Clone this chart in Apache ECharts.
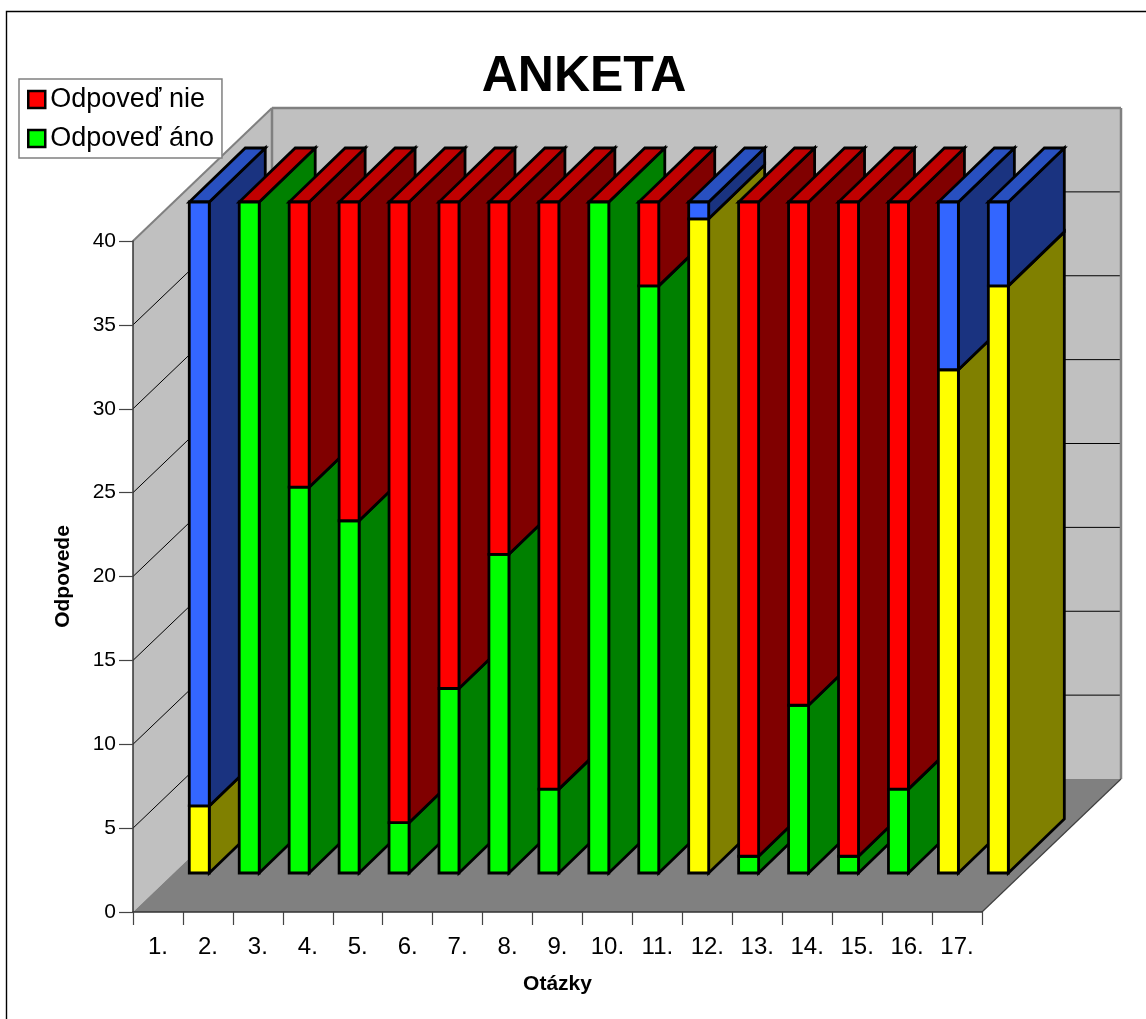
<!DOCTYPE html>
<html>
<head>
<meta charset="utf-8">
<style>html,body{margin:0;padding:0;background:#fff}#c{width:1146px;height:1019px}</style>
<script src="https://cdn.jsdelivr.net/npm/echarts@6/dist/echarts.min.js"></script>
</head>
<body>
<div id="c"></div>
<script>
const categories = ['1.','2.','3.','4.','5.','6.','7.','8.','9.','10.','11.','12.','13.','14.','15.','16.','17.'];
const yesValues = [4,40,23,21,3,11,19,5,40,35,39,1,10,1,5,30,35];
const noValues  = [36,0,17,19,37,29,21,35,0,5,1,39,30,39,35,10,5];
const yesKinds = ['yellow','green','green','green','green','green','green','green','green','green','yellow','green','green','green','green','yellow','yellow'];
const noKinds  = ['blue','red','red','red','red','red','red','red','red','red','blue','red','red','red','red','blue','blue'];
const yTicks = [0,5,10,15,20,25,30,35,40];

const palette = {
  red:    {front:'#ff0000', top:'#c00000', side:'#800000'},
  green:  {front:'#00ff00', top:'#00c000', side:'#008000'},
  blue:   {front:'#3366ff', top:'#2850c0', side:'#1a3380'},
  yellow: {front:'#ffff00', top:'#c0c000', side:'#808000'}
};
const wallDepth = [139,-133];
const barShift = [41.3,-39];
const barDepth = [56,-54];
const barRatio = 0.4;

function poly(points, fill, stroke, lw, z2){
  return {type:'polygon', z2, shape:{points}, style:{fill, stroke, lineWidth:lw, lineJoin:'miter'}, silent:true};
}
function line(a,b,stroke,lw,z2){
  return {type:'line', z2, shape:{x1:a[0],y1:a[1],x2:b[0],y2:b[1]}, style:{stroke, lineWidth:lw}, silent:true};
}
function renderWalls(params, api){
  const cs = params.coordSys, L=cs.x, R=cs.x+cs.width, dx=wallDepth[0], dy=wallDepth[1];
  const y0 = api.coord([0,0])[1], yTop = api.coord([0,yTicks[yTicks.length-1]])[1];
  const kids = [
    poly([[L,yTop],[L+dx,yTop+dy],[L+dx,y0+dy],[L,y0]],'#c0c0c0',null,0,1),
    poly([[L+dx,yTop+dy],[R+dx,yTop+dy],[R+dx,y0+dy],[L+dx,y0+dy]],'#c0c0c0',null,0,1),
    poly([[L,y0],[L+dx,y0+dy],[R+dx,y0+dy],[R,y0]],'#808080',null,0,2)
  ];
  yTicks.slice(1,-1).forEach(v=>{
    const y = api.coord([0,v])[1];
    kids.push(line([L,y],[L+dx,y+dy],'#000',1,3));
    kids.push(line([L+dx,y+dy],[R+dx,y+dy],'#000',1,3));
  });
  kids.push(line([L,yTop],[L+dx,yTop+dy],'#808080',2,4));
  kids.push(line([L+dx,yTop+dy],[R+dx,yTop+dy],'#808080',2.5,4));
  kids.push(line([R+dx,yTop+dy],[R+dx,y0+dy],'#808080',2.5,4));
  kids.push(line([L+dx,yTop+dy],[L+dx,y0+dy],'#808080',2.5,4));
  kids.push(line([R+dx,y0+dy],[R,y0],'#404040',1.2,4));
  return {type:'group', children:kids};
}
function renderBar(params, api){
  const i = api.value(0), from = api.value(1), to = api.value(2);
  const isTop = api.value(3) === 1;
  const c = palette[(isTop ? noKinds : yesKinds)[i]];
  const bw = api.size([1,0])[0]*barRatio, hw = bw/2;
  const a = api.coord([i,from]), b = api.coord([i,to]);
  const xl = a[0]+barShift[0]-hw, xr = xl+bw, yb = a[1]+barShift[1], yt = b[1]+barShift[1];
  const dx = barDepth[0], dy = barDepth[1], z = 10+i*10, s = '#000', lw = 2.8;
  const kids = [];
  if (to>from){
    kids.push(poly([[xr,yb],[xr+dx,yb+dy],[xr+dx,yt+dy],[xr,yt]],c.side,s,lw,z+(isTop?2:1)));
    kids.push(poly([[xl,yb],[xr,yb],[xr,yt],[xl,yt]],c.front,s,lw,z+(isTop?5:4)));
  }
  if (isTop){
    kids.push(poly([[xl,yt],[xr,yt],[xr+dx,yt+dy],[xl+dx,yt+dy]],c.top,s,lw,z+3));
  }
  return {type:'group', children:kids};
}

const yesData = categories.map((_,i)=>[i,0,yesValues[i],0]);
const noData  = categories.map((_,i)=>[i,yesValues[i],yesValues[i]+noValues[i],1]);

const chart = echarts.init(document.getElementById('c'), null, {width:1146, height:1019, renderer:'canvas'});
const font = '"Liberation Sans", Arial, sans-serif';
chart.setOption({
  animation:false,
  backgroundColor:'#fff',
  textStyle:{fontFamily:font},
  title:{text:'ANKETA', left:579, top:47, textAlign:'center',
    textStyle:{fontFamily:font, fontSize:50, fontWeight:'bold', color:'#000'}},
  graphic:[{type:'polyline', z:0, silent:true,
    shape:{points:[[6.5,1030],[6.5,11.5],[1160,11.5]]},
    style:{stroke:'#000', lineWidth:1.4, fill:null}}],
  legend:{
    left:19, top:79, orient:'vertical', selectedMode:false,
    backgroundColor:'#fff', borderColor:'#808080', borderWidth:1.5,
    padding:[7,8,6,8], itemGap:12, itemWidth:17, itemHeight:17,
    textStyle:{fontFamily:font, fontSize:27, color:'#000', padding:[0,0,0,0]},
    data:[
      {name:'Odpoveď nie', icon:'rect', itemStyle:{color:'#ff0000', borderColor:'#000', borderWidth:2.5}},
      {name:'Odpoveď áno', icon:'rect', itemStyle:{color:'#00ff00', borderColor:'#000', borderWidth:2.5}}
    ]
  },
  grid:{left:133, top:241, width:849, height:671, containLabel:false},
  xAxis:{
    type:'category', data:categories, z:5,
    name:'Otázky', nameLocation:'middle', nameGap:62,
    nameTextStyle:{fontFamily:font, fontSize:21, fontWeight:'bold', color:'#000'},
    axisLine:{lineStyle:{color:'#333', width:1.5}},
    axisTick:{show:true, alignWithLabel:false, length:13, lineStyle:{color:'#444', width:1.2}},
    axisLabel:{interval:0, margin:23, fontFamily:font, fontSize:24, color:'#000'},
    splitLine:{show:false}
  },
  yAxis:{
    type:'value', min:0, max:40, interval:5, z:5,
    name:'Odpovede', nameLocation:'middle', nameGap:59, nameRotate:90,
    nameTextStyle:{fontFamily:font, fontSize:21, fontWeight:'bold', color:'#000'},
    axisLine:{show:true, lineStyle:{color:'#333', width:1.5}},
    axisTick:{show:true, length:14, lineStyle:{color:'#444', width:1.2}},
    axisLabel:{margin:17, fontFamily:font, fontSize:21, color:'#000'},
    splitLine:{show:false}
  },
  tooltip:{show:false},
  series:[
    {type:'custom', name:'walls', z:1, silent:true, renderItem:renderWalls, data:[[0,0]], encode:{x:0,y:1}},
    {type:'custom', name:'Odpoveď áno', z:2, silent:true, renderItem:renderBar, data:yesData,
      dimensions:['i','from','to','top'], encode:{x:0,y:[1,2]}, itemStyle:{color:'#00ff00'}},
    {type:'custom', name:'Odpoveď nie', z:2, silent:true, renderItem:renderBar, data:noData,
      dimensions:['i','from','to','top'], encode:{x:0,y:[1,2]}, itemStyle:{color:'#ff0000'}}
  ]
});
</script>
</body>
</html>
